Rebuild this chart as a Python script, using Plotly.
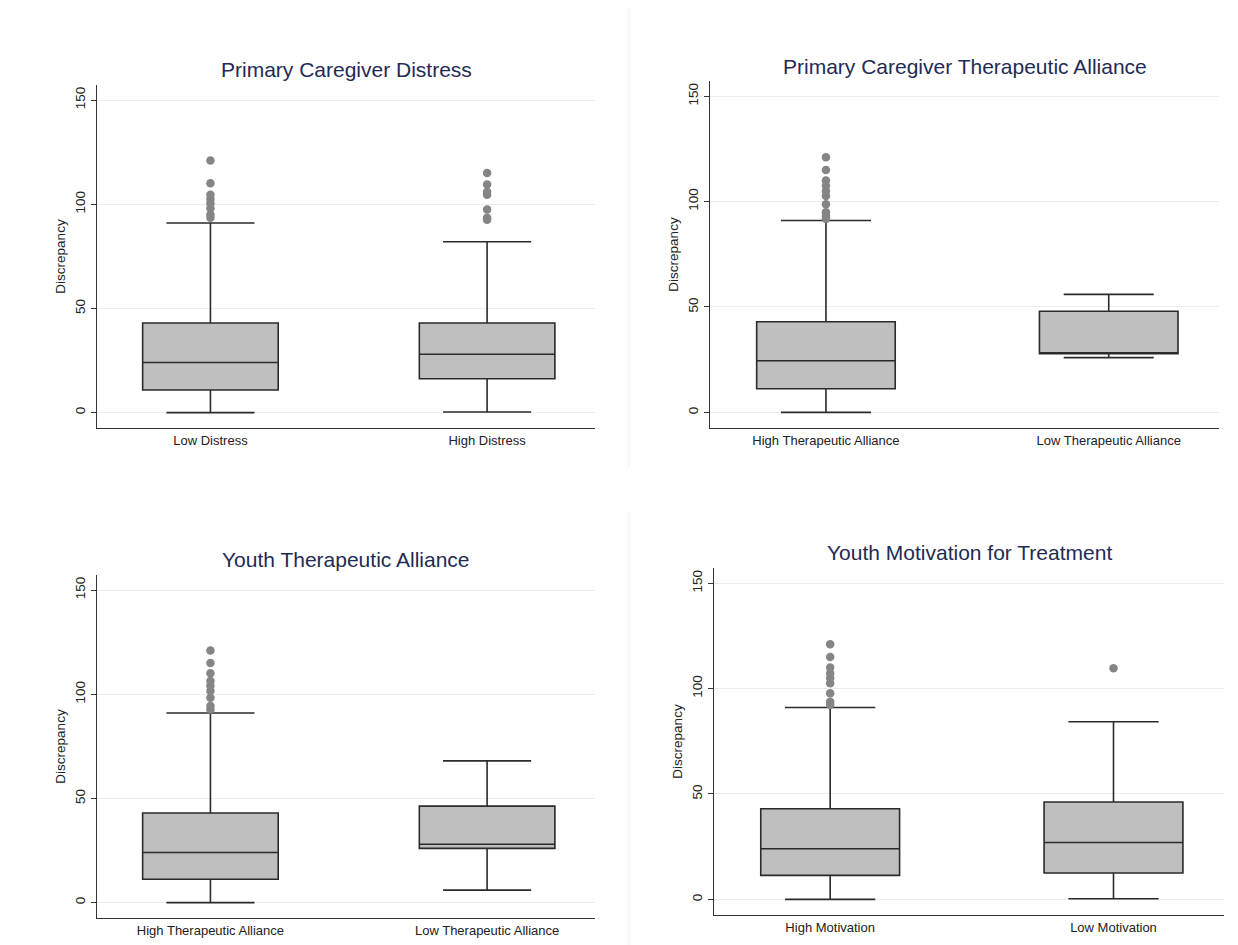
import plotly.graph_objects as go

# ---------------- data ----------------
titles = ["Primary Caregiver Distress", "Primary Caregiver Therapeutic Alliance",
          "Youth Therapeutic Alliance", "Youth Motivation for Treatment"]
categories = [["Low Distress", "High Distress"],
              ["High Therapeutic Alliance", "Low Therapeutic Alliance"],
              ["High Therapeutic Alliance", "Low Therapeutic Alliance"],
              ["High Motivation", "Low Motivation"]]
lower_fence = [[0, 0.3], [0, 26], [0, 6], [0, 0.3]]
q1_vals = [[10.8, 16.2], [11.2, 27.8], [11.2, 26.0], [11.4, 12.5]]
median_vals = [[24, 28], [24.5, 28.0], [24, 28], [24, 27]]
q3_vals = [[43, 43], [43, 48], [43, 46.3], [43, 46.2]]
upper_fence = [[91, 82], [91, 56], [91, 68], [91, 84.3]]
outliers = [
    [[93.5, 95, 98, 100.5, 102.5, 104.5, 110, 121], [92.5, 93.5, 97.5, 104.5, 106, 109.5, 115]],
    [[91.8, 93.2, 95, 98.7, 102.7, 105, 107.5, 110, 115, 121], []],
    [[92.7, 94.3, 98.3, 101.5, 104, 106.3, 110, 115, 121], []],
    [[92.3, 93.8, 97.8, 102.5, 105, 107.3, 110, 115, 121], [109.6]],
]
y_ticks = [0, 50, 100, 150]
y_title = "Discrepancy"

# ---------------- layout geometry (pixels) ----------------
W, H = 1238, 945
# (x_left, x_right, y_top, y_bottom) of plot areas
areas = [(89, 587, 77, 420), (702, 1211, 73, 420),
         (89, 587, 567, 910), (706, 1216, 560, 907)]
title_y = [62, 58, 551, 544]

fig = go.Figure()
FONT = "Liberation Sans, Arial, Helvetica, sans-serif"

for i in range(4):
    xa = "x" if i == 0 else f"x{i+1}"
    ya = "y" if i == 0 else f"y{i+1}"
    for j in range(2):
        fig.add_trace(go.Box(
            x=[j], q1=[q1_vals[i][j]], median=[median_vals[i][j]], q3=[q3_vals[i][j]],
            lowerfence=[lower_fence[i][j]], upperfence=[upper_fence[i][j]],
            width=0.49, whiskerwidth=0.65, boxpoints=False,
            fillcolor="#bfbfbf", line=dict(color="#2b2b2b", width=1.6),
            xaxis=xa, yaxis=ya, showlegend=False, hoverinfo="skip"))
        if outliers[i][j]:
            fig.add_trace(go.Scatter(
                x=[j] * len(outliers[i][j]), y=outliers[i][j], mode="markers",
                marker=dict(color="#858585", size=8.5),
                xaxis=xa, yaxis=ya, showlegend=False, hoverinfo="skip"))

layout = dict(width=W, height=H, margin=dict(l=0, r=0, t=0, b=0),
              paper_bgcolor="white", plot_bgcolor="white",
              font=dict(family=FONT, color="#222222"))
annotations = []
shapes = []
for i in range(4):
    xl, xr, yt, yb = areas[i]
    xk = "xaxis" if i == 0 else f"xaxis{i+1}"
    yk = "yaxis" if i == 0 else f"yaxis{i+1}"
    anchor_x = "y" if i == 0 else f"y{i+1}"
    anchor_y = "x" if i == 0 else f"x{i+1}"
    layout[xk] = dict(domain=[xl / W, xr / W], anchor=anchor_x, range=[-0.41, 1.39],
                      tickvals=[0, 1], ticktext=categories[i], showgrid=False,
                      zeroline=False, showline=True, linecolor="#333333", linewidth=1.3,
                      ticks="", tickfont=dict(size=13, color="#222222"), fixedrange=True)
    layout[yk] = dict(domain=[1 - yb / H, 1 - yt / H], anchor=anchor_y, range=[-7.4, 157.2],
                      tickvals=y_ticks, tickangle=-90, showgrid=True, gridcolor="#ececec",
                      gridwidth=1, zeroline=False, showline=True, linecolor="#333333",
                      linewidth=1.3, ticks="outside", ticklen=5, tickcolor="#333333",
                      tickfont=dict(size=13.5, color="#222222"),
                      title=dict(text=y_title, font=dict(size=13.5, color="#222222"), standoff=4),
                      fixedrange=True)
    annotations.append(dict(text=titles[i], x=(xl + xr) / 2 / W, y=1 - title_y[i] / H,
                            xref="paper", yref="paper", showarrow=False,
                            xanchor="center", yanchor="middle",
                            font=dict(size=21, color="#1f2b55", family=FONT)))

# faint panel separators
shapes.append(dict(type="line", xref="paper", yref="paper", x0=621 / W, x1=621 / W,
                   y0=1 - 458 / H, y1=1, line=dict(color="#eeeeee", width=1)))
shapes.append(dict(type="line", xref="paper", yref="paper", x0=621 / W, x1=621 / W,
                   y0=0, y1=1 - 503 / H, line=dict(color="#eeeeee", width=1)))
layout["annotations"] = annotations
layout["shapes"] = shapes
fig.update_layout(**layout)
fig.write_html("out.html")
